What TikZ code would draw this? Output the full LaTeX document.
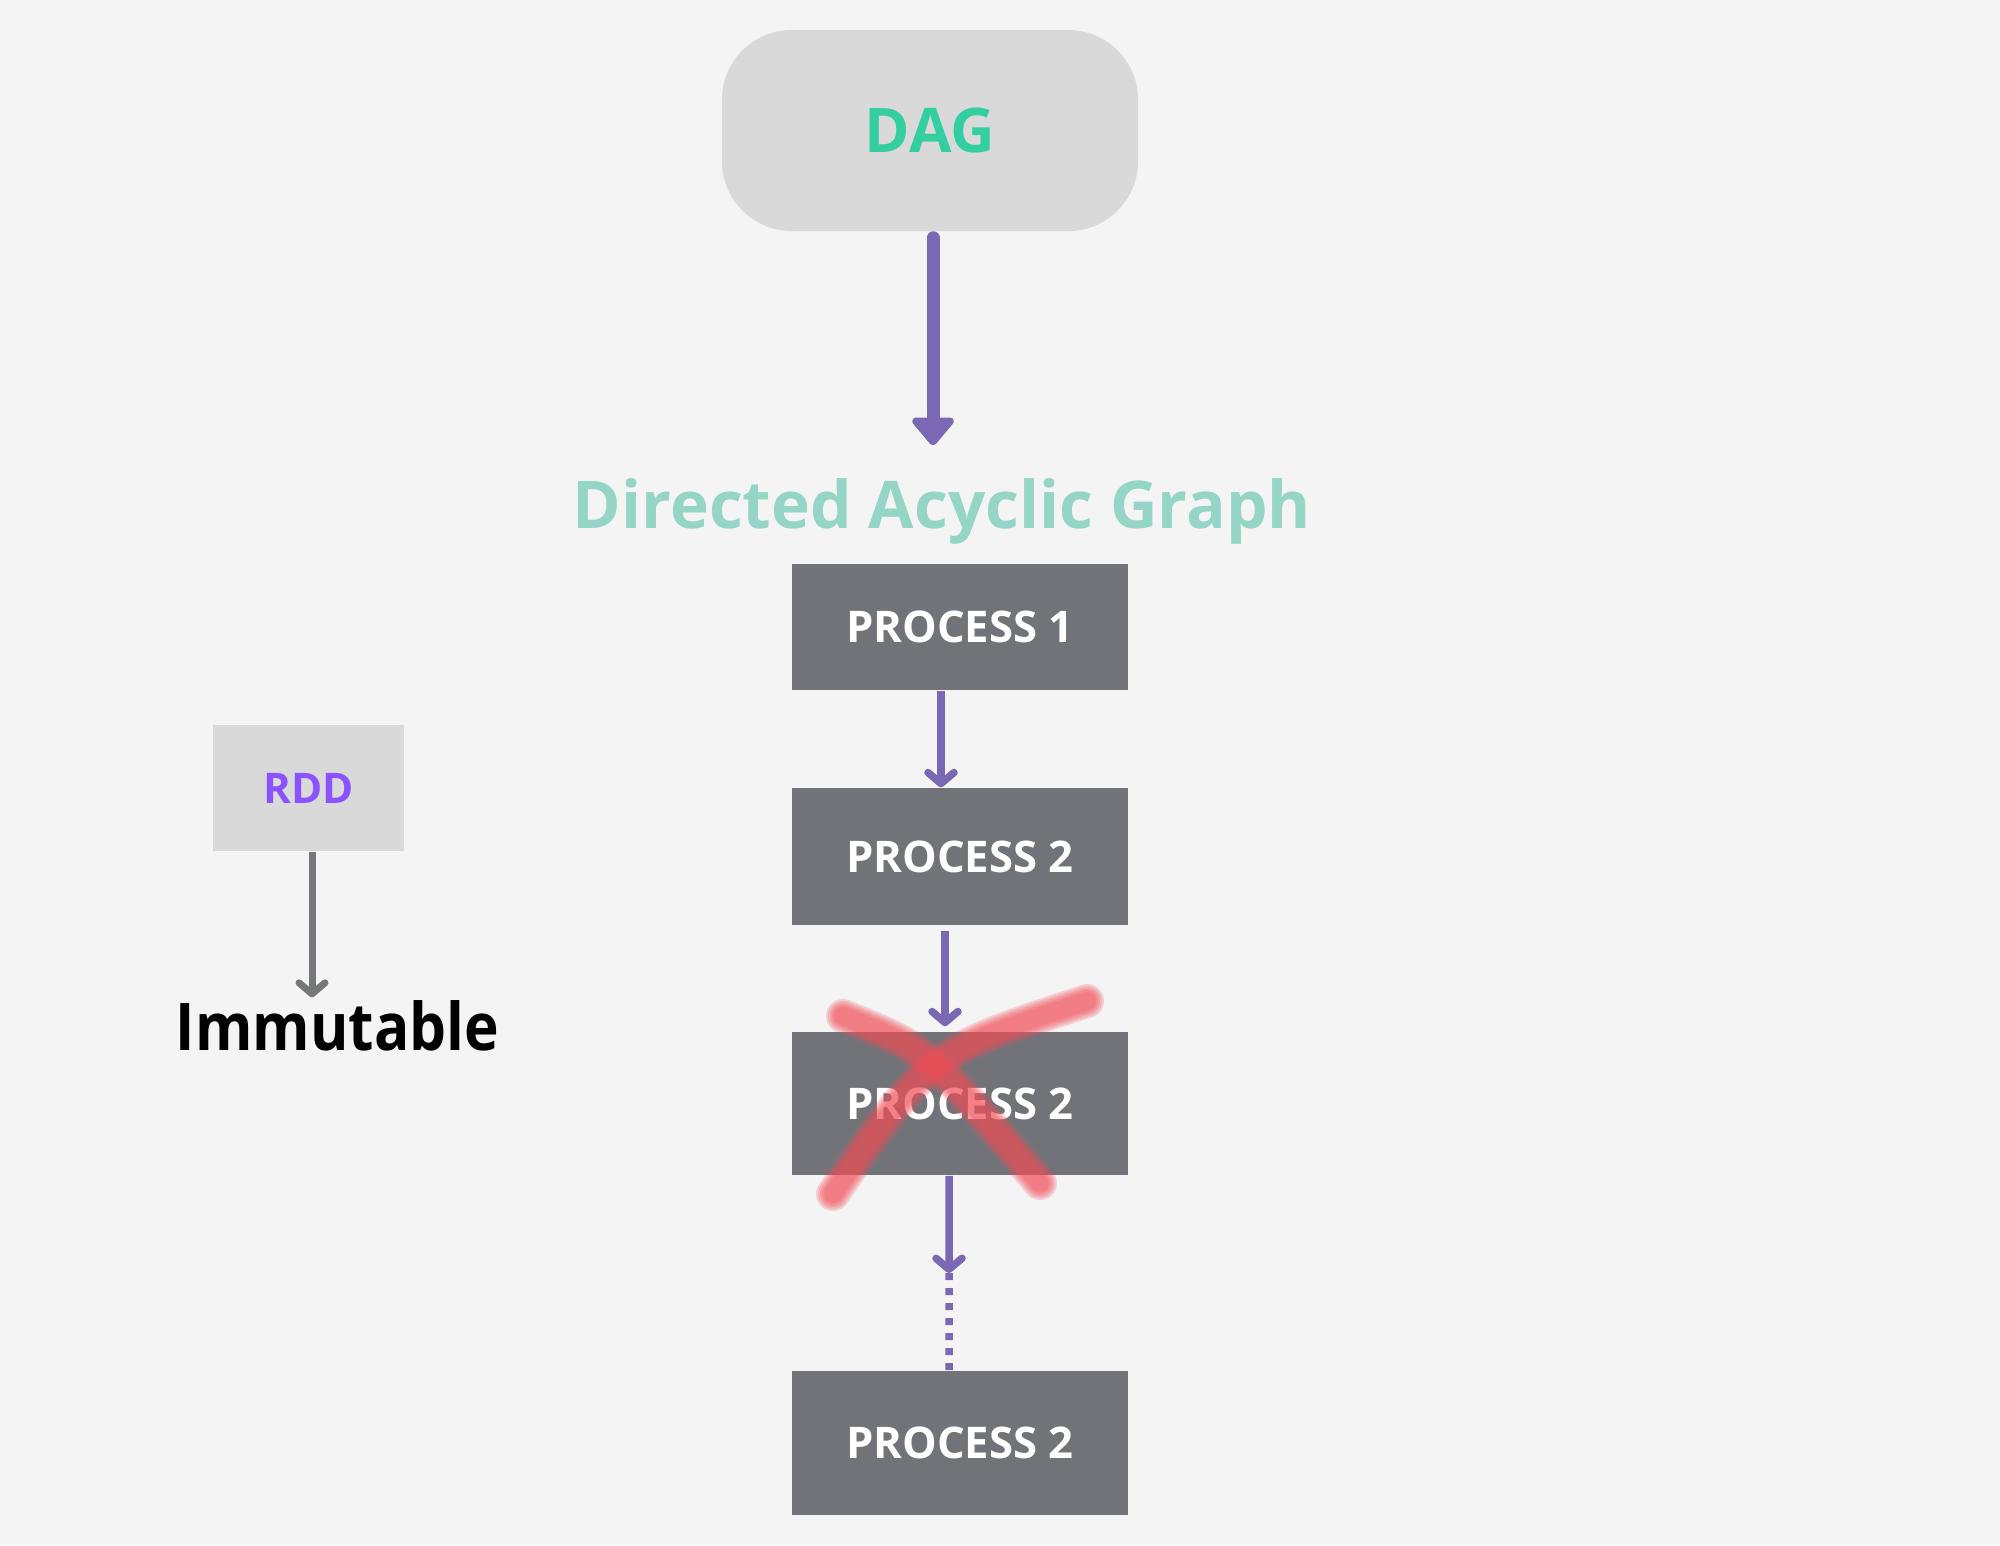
\documentclass[tikz,border=0pt]{standalone}
\usepackage{fontspec}
\setmainfont{Open Sans}
\newfontfamily\labelfont[FakeStretch=0.89]{Open Sans}
\usepackage{xcolor}
\usepackage{tikz}
\usetikzlibrary{arrows.meta,positioning}

\definecolor{bgcol}{HTML}{F4F4F4}
\definecolor{boxgray}{HTML}{D9D9D9}
\definecolor{procgray}{HTML}{717378}
\definecolor{flowpurple}{HTML}{7A68B5}
\definecolor{dagteal}{HTML}{33CFA0}
\definecolor{titleteal}{HTML}{95D5C5}
\definecolor{rddpurple}{HTML}{8C52FF}
\definecolor{arrowgray}{HTML}{75777B}
\definecolor{crossred}{HTML}{F24E58}

\tikzset{
  procbox/.style={fill=procgray, minimum width=3.36cm, inner sep=0pt, text=white,
    font=\bfseries\fontsize{12.4}{15}\selectfont},
  flow/.style={draw=flowpurple, line width=0.075cm,
    -{Straight Barb[length=0.11cm,width=0.26cm,round]}},
  bigflow/.style={draw=flowpurple, line width=0.13cm, line cap=round,
    -{Triangle[length=0.3cm,width=0.48cm,round,line width=3pt]}},
  grayflow/.style={draw=arrowgray, line width=0.07cm,
    -{Straight Barb[length=0.11cm,width=0.26cm,round]}},
  crossline/.style={draw=crossred, line cap=round, opacity=0.22},
}

\begin{document}
\begin{tikzpicture}[x=0.01cm,y=-0.01cm]
  % Hintergrund
  \fill[bgcol] (0,0) rectangle (2000,1545);
  \useasboundingbox (0,0) rectangle (2000,1545);

  % DAG oben
  \node[fill=boxgray, rounded corners=0.7cm, minimum width=4.16cm, minimum height=2.01cm,
    text=dagteal, font=\bfseries\fontsize{17.5}{20}\selectfont] (dag) at (930,130.5) {DAG};
  \node[anchor=base, inner sep=0pt, text=titleteal,
    font=\bfseries\fontsize{18.7}{22}\selectfont] (title) at (942,528) {Directed Acyclic Graph};
  \draw[bigflow, shorten <=0.06cm, shorten >=0.32cm] ([xshift=0.03cm]dag.south) -- ([xshift=0.03cm]dag.south |- title.north);

  % Prozesskette
  \node[procbox, minimum height=1.26cm] (p1) at (960,627) {PROCESS 1};
  \node[procbox, minimum height=1.37cm] (p2) at (960,856.5) {PROCESS 2};
  \node[procbox, minimum height=1.43cm] (p3) at (960,1103.5) {PROCESS 2};
  \node[procbox, minimum height=1.44cm] (p4) at (960,1443) {PROCESS 2};
  \coordinate (mid) at (949,1273);

  \draw[flow] ([xshift=-0.19cm]p1.south) -- ([xshift=-0.19cm]p2.north);
  \draw[flow, shorten <=0.05cm, shorten >=0.05cm] ([xshift=-0.15cm]p2.south) -- ([xshift=-0.15cm]p3.north);
  \draw[flow] ([xshift=-0.11cm]p3.south) -- (mid);
  \draw[draw=flowpurple, line width=0.075cm, dash pattern=on 0.07cm off 0.08cm] (mid) -- ([xshift=-0.11cm]p4.north);

  % rotes Kreuz ueber p3 (Pinselstrich)
  \foreach \w in {0.34,0.3,0.26,0.22,0.18} {
    \draw[crossline, line width=\w cm] (843,1016) .. controls (928,1050) .. (1040,1183);
    \draw[crossline, line width=\w cm] (833,1194) .. controls (930,1052) .. (1087,1001);
  }

  % RDD links
  \node[fill=boxgray, minimum width=1.91cm, minimum height=1.26cm, inner sep=0pt,
    text=rddpurple, font=\bfseries\fontsize{12}{14}\selectfont] (rdd) at (308.5,788) {RDD};
  \node[anchor=base, inner sep=0pt, font=\labelfont\bfseries\fontsize{18.7}{22}\selectfont] (immut) at (337.5,1050) {Immutable};
  \draw[grayflow, shorten >=0.02cm] ([xshift=0.035cm]rdd.south) -- ([xshift=0.035cm]rdd.south |- immut.north);
\end{tikzpicture}
\end{document}
